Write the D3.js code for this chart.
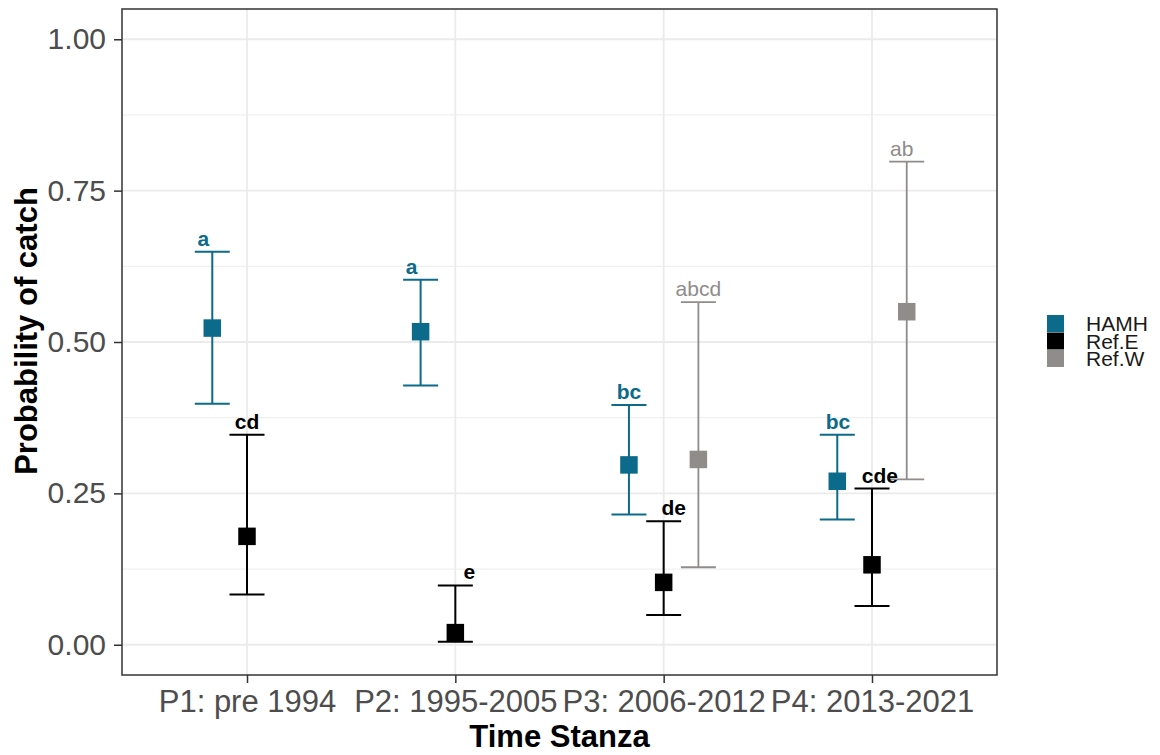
<!DOCTYPE html>
<html>
<head>
<meta charset="utf-8">
<script src="https://cdn.jsdelivr.net/npm/d3@7"></script>
<style>
  html, body { margin: 0; padding: 0; background: #fff; }
  svg { display: block; font-family: "Liberation Sans", Arial, sans-serif; }
</style>
</head>
<body>
<svg id="chart" width="1160" height="755"></svg>
<script>
// ---- data ----
const categories = ["P1: pre 1994", "P2: 1995-2005", "P3: 2006-2012", "P4: 2013-2021"];
const groups = ["HAMH", "Ref.E", "Ref.W"];

const hamhEst   = [0.523, 0.517, 0.297, 0.270];
const hamhLower = [0.398, 0.428, 0.215, 0.207];
const hamhUpper = [0.649, 0.603, 0.396, 0.347];
const hamhLetters = ["a", "a", "bc", "bc"];

const refEEst   = [0.179, 0.020, 0.103, 0.132];
const refELower = [0.083, 0.005, 0.049, 0.064];
const refEUpper = [0.347, 0.098, 0.204, 0.258];
const refELetters = ["cd", "e", "de", "cde"];

const refWEst   = [null, null, 0.306, 0.550];
const refWLower = [null, null, 0.128, 0.273];
const refWUpper = [null, null, 0.566, 0.798];
const refWLetters = [null, null, "abcd", "ab"];

const yTicks = [0, 0.25, 0.5, 0.75, 1.0];
const yMinor = [0.125, 0.375, 0.625, 0.875];

// label horizontal nudges (in category-step units)
const hamhNudge = [-0.043, -0.043, 0, 0.003];
const refENudge = [0, 0.067, 0.048, 0.038];
const refWNudge = [0, 0, 0, -0.024];

// ---- styles ----
const colors = {"HAMH": "#0c6a8a", "Ref.E": "#000000", "Ref.W": "#8f8c8a"};
const weights = {"HAMH": "bold", "Ref.E": "bold", "Ref.W": "normal"};
const lineW = {"HAMH": 2, "Ref.E": 2, "Ref.W": 1.8};

const seriesData = {
  "HAMH": {est: hamhEst, lo: hamhLower, hi: hamhUpper, lab: hamhLetters, nudge: hamhNudge},
  "Ref.E": {est: refEEst, lo: refELower, hi: refEUpper, lab: refELetters, nudge: refENudge},
  "Ref.W": {est: refWEst, lo: refWLower, hi: refWUpper, lab: refWLetters, nudge: refWNudge}
};

const rows = [];
groups.forEach((g, gi) => {
  const s = seriesData[g];
  categories.forEach((c, ci) => {
    if (s.est[ci] == null) return;
    rows.push({group: g, gi, cat: c, est: s.est[ci], lo: s.lo[ci], hi: s.hi[ci], lab: s.lab[ci], nudge: s.nudge[ci]});
  });
});

// ---- layout ----
const panel = {left: 122, right: 997, top: 9, bottom: 675};
const svg = d3.select("#chart");

const x = d3.scalePoint().domain(categories).range([panel.left, panel.right]).padding(0.6);
const step = x.step();
const dodge = d3.scaleBand().domain(groups).range([-0.25 * step, 0.25 * step]);
const xg = d => x(d.cat) + dodge(d.group) + dodge.bandwidth() / 2;

const y = d3.scaleLinear().domain([-0.05, 1.05]).range([panel.bottom, panel.top]);

// panel background
svg.append("rect").attr("x", panel.left).attr("y", panel.top)
  .attr("width", panel.right - panel.left).attr("height", panel.bottom - panel.top)
  .attr("fill", "#fff");

// grid
const grid = svg.append("g");
grid.selectAll(".ymin").data(yMinor).join("line")
  .attr("x1", panel.left).attr("x2", panel.right)
  .attr("y1", d => y(d)).attr("y2", d => y(d))
  .attr("stroke", "#f0f0f0").attr("stroke-width", 1.2);
grid.selectAll(".ymaj").data(yTicks).join("line")
  .attr("x1", panel.left).attr("x2", panel.right)
  .attr("y1", d => y(d)).attr("y2", d => y(d))
  .attr("stroke", "#ebebeb").attr("stroke-width", 1.8);
grid.selectAll(".xmaj").data(categories).join("line")
  .attr("x1", d => x(d)).attr("x2", d => x(d))
  .attr("y1", panel.top).attr("y2", panel.bottom)
  .attr("stroke", "#ebebeb").attr("stroke-width", 1.8);

// error bars
const capW = 0.168 * step;
const eb = svg.append("g").selectAll("g").data(rows).join("g")
  .attr("stroke", d => colors[d.group]).attr("stroke-width", d => lineW[d.group]);
eb.append("line").attr("x1", xg).attr("x2", xg).attr("y1", d => y(d.lo)).attr("y2", d => y(d.hi));
eb.append("line").attr("x1", d => xg(d) - capW / 2).attr("x2", d => xg(d) + capW / 2)
  .attr("y1", d => y(d.hi)).attr("y2", d => y(d.hi));
eb.append("line").attr("x1", d => xg(d) - capW / 2).attr("x2", d => xg(d) + capW / 2)
  .attr("y1", d => y(d.lo)).attr("y2", d => y(d.lo));

// points
const ps = 17.5;
svg.append("g").selectAll("rect").data(rows).join("rect")
  .attr("x", d => xg(d) - ps / 2).attr("y", d => y(d.est) - ps / 2)
  .attr("width", ps).attr("height", ps)
  .attr("fill", d => colors[d.group]);

// letters
svg.append("g").selectAll("text").data(rows).join("text")
  .attr("x", d => xg(d) + d.nudge * step)
  .attr("y", d => y(d.hi) - 6)
  .attr("text-anchor", "middle")
  .attr("font-size", 21)
  .attr("font-weight", d => weights[d.group])
  .attr("fill", d => colors[d.group])
  .text(d => d.lab);

// panel border
svg.append("rect").attr("x", panel.left).attr("y", panel.top)
  .attr("width", panel.right - panel.left).attr("height", panel.bottom - panel.top)
  .attr("fill", "none").attr("stroke", "#333333").attr("stroke-width", 1.5);

// axes
const yAxis = svg.append("g").attr("transform", `translate(${panel.left},0)`)
  .call(d3.axisLeft(y).tickValues(yTicks).tickFormat(d3.format(".2f")).tickSize(8).tickPadding(8));
const xAxis = svg.append("g").attr("transform", `translate(0,${panel.bottom})`)
  .call(d3.axisBottom(x).tickSize(8).tickPadding(7));
[yAxis, xAxis].forEach(a => {
  a.select(".domain").remove();
  a.selectAll(".tick line").attr("stroke", "#333333").attr("stroke-width", 1.5);
  a.selectAll(".tick text").attr("fill", "#4d4d4d")
    .attr("font-family", "'Liberation Sans', Arial, sans-serif");
});
yAxis.selectAll(".tick text").attr("font-size", 30);
xAxis.selectAll(".tick text").attr("font-size", 31);

// axis titles
svg.append("text").attr("x", (panel.left + panel.right) / 2).attr("y", 747)
  .attr("text-anchor", "middle").attr("font-size", 31).attr("font-weight", "bold")
  .attr("fill", "#000").text("Time Stanza");
svg.append("text").attr("transform", `translate(37,${(panel.top + panel.bottom) / 2 - 11}) rotate(-90)`)
  .attr("text-anchor", "middle").attr("font-size", 31).attr("font-weight", "bold")
  .attr("fill", "#000").text("Probability of catch");

// legend
const leg = svg.append("g").attr("transform", "translate(1047,315)");
const li = leg.selectAll("g").data(groups).join("g")
  .attr("transform", (d, i) => `translate(0,${i * 17.5})`);
li.append("rect").attr("width", 17).attr("height", 17).attr("y", 0)
  .attr("fill", d => colors[d]);
li.append("text").attr("x", 39).attr("y", 8.5).attr("dy", "0.36em")
  .attr("font-size", 21).attr("fill", "#1a1a1a").text(d => d);
</script>
</body>
</html>
